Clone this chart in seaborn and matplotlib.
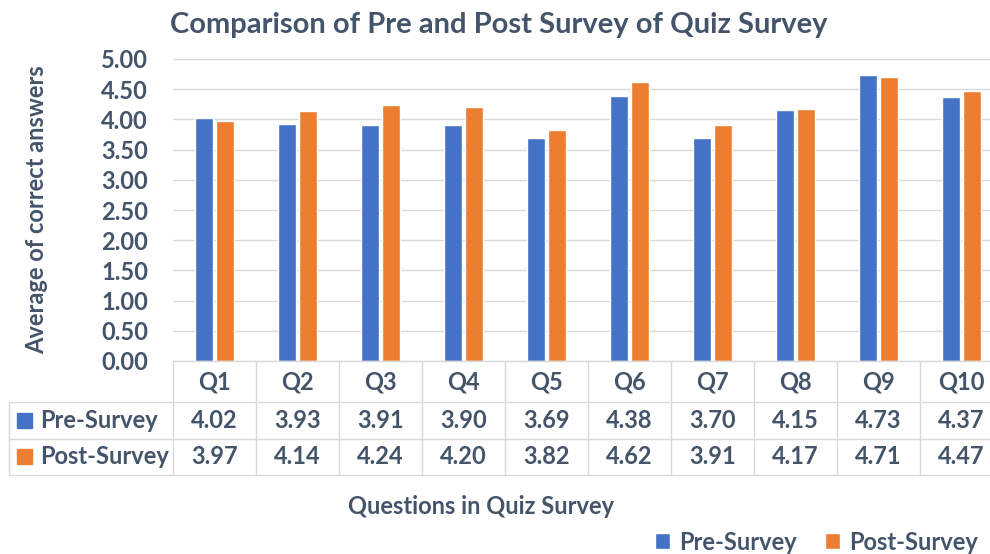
import numpy as np
import pandas as pd
import matplotlib
matplotlib.use("Agg")
import matplotlib.pyplot as plt
import matplotlib.transforms as mtransforms
from matplotlib.patches import Rectangle
import seaborn as sns

# ── Données ──────────────────────────────────────────────────
questions = ["Q1", "Q2", "Q3", "Q4", "Q5", "Q6", "Q7", "Q8", "Q9", "Q10"]
pre_survey = [4.02, 3.93, 3.91, 3.90, 3.69, 4.38, 3.70, 4.15, 4.73, 4.37]
post_survey = [3.97, 4.14, 4.24, 4.20, 3.82, 4.62, 3.91, 4.17, 4.71, 4.47]
series = ["Pre-Survey", "Post-Survey"]
yticks = [0.0, 0.5, 1.0, 1.5, 2.0, 2.5, 3.0, 3.5, 4.0, 4.5, 5.0]

BLUE, ORANGE = "#4472C4", "#ED7D31"
TXT = "#44546A"
GRID = "#D9D9D9"

df = pd.DataFrame({
    "question": questions * 2,
    "score": pre_survey + post_survey,
    "survey": [series[0]] * len(questions) + [series[1]] * len(questions),
})

sns.set_style("white")
plt.rcParams["font.family"] = ["Lato", "DejaVu Sans"]
plt.rcParams["font.weight"] = "bold"

fig = plt.figure(figsize=(9.9, 5.54), dpi=100)
ax = fig.add_axes([173 / 990, 1 - 361 / 554, 830 / 990, 302 / 554])

sns.barplot(data=df, x="question", y="score", hue="survey", order=questions,
            hue_order=series, palette=[BLUE, ORANGE], saturation=1,
            width=0.5, gap=0.12, ax=ax)

ax.set_xlim(-0.5, 9.5)
ax.set_ylim(0, 5)
ax.set_yticks(yticks)
ax.set_yticklabels([f"{v:.2f}" for v in yticks])
ax.tick_params(axis="y", length=0, pad=18, labelsize=17, labelcolor=TXT)
ax.tick_params(axis="x", length=0, labelbottom=False)
ax.set_xlabel("")
ax.set_ylabel("")
ax.yaxis.grid(True, color=GRID, lw=1)
ax.set_axisbelow(True)
for s in ax.spines.values():
    s.set_visible(False)

handles, labels = ax.get_legend_handles_labels()
ax.get_legend().remove()

# ── Tableau de données sous le graphique ─────────────────────
trans = mtransforms.blended_transform_factory(ax.transData, ax.transAxes)
rows = [0, -0.1358, -0.2573, -0.3775]
left_x = -2.476
lkw = dict(color=GRID, lw=1, transform=trans, clip_on=False)
ax.plot([-0.5, 9.6], [rows[0]] * 2, **lkw)
for y in rows[1:]:
    ax.plot([left_x, 9.6], [y] * 2, **lkw)
for i in range(len(questions) + 1):
    ax.plot([i - 0.5] * 2, [rows[0], rows[-1]], **lkw)
ax.plot([left_x] * 2, [rows[1], rows[-1]], **lkw)

tkw = dict(transform=trans, ha="center", va="center", fontsize=17,
           fontweight="bold", color=TXT)
hdr_y = (rows[0] + rows[1]) / 2
pre_y = (rows[1] + rows[2]) / 2
post_y = (rows[2] + rows[3]) / 2
for i, q in enumerate(questions):
    ax.text(i, hdr_y, q, **tkw)
    ax.text(i, pre_y, f"{pre_survey[i]:.2f}", **tkw)
    ax.text(i, post_y, f"{post_survey[i]:.2f}", **tkw)

for name, col, y in [(series[0], BLUE, pre_y), (series[1], ORANGE, post_y)]:
    ax.add_patch(Rectangle((-2.3795, y - 0.0248), 0.181, 0.0497, color=col,
                           transform=trans, clip_on=False))
    ax.text(-2.102, y, name, transform=trans, ha="left", va="center",
            fontsize=17, fontweight="bold", color=TXT)

# ── Titres ───────────────────────────────────────────────────
fig.text(499 / 990, 1 - 25 / 554, "Comparison of Pre and Post Survey of Quiz Survey",
         ha="center", va="center", fontsize=21, fontweight="bold", color=TXT)
fig.text(37 / 990, 1 - 210 / 554, "Average of correct answers", rotation=90,
         ha="center", va="center", fontsize=17, fontweight="bold", color=TXT)
fig.text(481 / 990, 1 - 507 / 554, "Questions in Quiz Survey",
         ha="center", va="center", fontsize=17, fontweight="bold", color=TXT)

leg = fig.legend(handles, labels, loc="center left",
                 bbox_to_anchor=(655 / 990, 1 - 542 / 554), ncol=2, frameon=False,
                 borderpad=0, borderaxespad=0,
                 handlelength=0.64, handleheight=0.64, handletextpad=0.38,
                 columnspacing=1.2, prop={"size": 17, "weight": "bold"})
for t in leg.get_texts():
    t.set_color(TXT)

fig.savefig("out.png", dpi=100)
